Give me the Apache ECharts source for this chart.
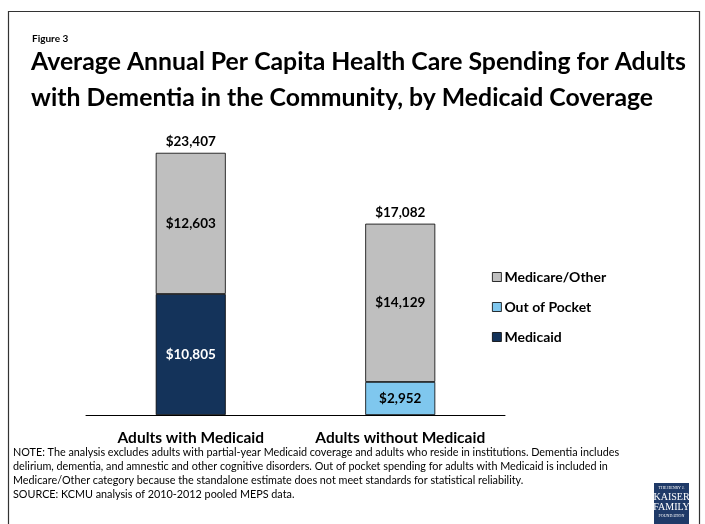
<!DOCTYPE html>
<html><head><meta charset="utf-8">
<script src="https://cdn.jsdelivr.net/npm/echarts@6/dist/echarts.min.js"></script>
<style>html,body{margin:0;padding:0;background:#fff}#c{width:705px;height:524px}</style>
</head><body><div id="c"></div>
<script>
const categories = ['Adults with Medicaid', 'Adults without Medicaid'];
const medicaid = [10805, null];
const outOfPocket = [null, 2952];
const medicareOther = [12603, 14129];
const totals = [23407, 17082];
const seriesNames = ['Medicaid', 'Out of Pocket', 'Medicare/Other'];
const legendOrder = ['Medicare/Other', 'Out of Pocket', 'Medicaid'];

const FONT = 'Lato';
const fmt = v => '$' + Number(v).toLocaleString('en-US');
const chart = echarts.init(document.getElementById('c'));
const labelStyle = (color) => ({show: true, position: 'inside', color: color, fontFamily: FONT, fontWeight: 'bold', fontSize: 13.5,
  formatter: p => p.value == null ? '' : fmt(p.value)});
const barBase = {type: 'bar', stack: 'total', barWidth: 70, itemStyle: {borderColor: '#000', borderWidth: 0.8}};
chart.setOption({
  animation: false,
  graphic: [
    {type: 'rect', shape: {x: 8.5, y: 11.5, width: 691, height: 530}, style: {fill: 'none', stroke: '#333', lineWidth: 1.2}},
    {type: 'text', left: 32, top: 34, style: {text: 'Figure 3', font: 'bold 10px Lato', fill: '#000'}},
    {type: 'text', left: 31, top: 44, style: {text: 'Average Annual Per Capita Health Care Spending for Adults\nwith Dementia in the Community, by Medicaid Coverage', font: 'bold 24.8px Lato', lineHeight: 36, fill: '#000'}},
    {type: 'text', left: 13, top: 446, style: {text: 'NOTE: The analysis excludes adults with partial-year Medicaid coverage and adults who reside in institutions. Dementia includes\ndelirium, dementia, and amnestic and other cognitive disorders. Out of pocket spending for adults with Medicaid is included in\nMedicare/Other category because the standalone estimate does not meet standards for statistical reliability.\nSOURCE: KCMU analysis of 2010-2012 pooled MEPS data.', font: '10.8px Lato', lineHeight: 14, fill: '#000'}},
    {type: 'rect', shape: {x: 654, y: 483, width: 35, height: 41}, style: {fill: '#1f3a68'}},
    {type: 'text', x: 671.5, y: 486, style: {text: 'THE HENRY J.', font: '4px serif', fill: '#fff', align: 'center'}},
    {type: 'text', x: 671.5, y: 492, style: {text: 'KAISER', font: '10px "Liberation Serif"', fill: '#fff', align: 'center'}},
    {type: 'text', x: 671.5, y: 502, style: {text: 'FAMILY', font: '10px "Liberation Serif"', fill: '#fff', align: 'center'}},
    {type: 'text', x: 671.5, y: 514, style: {text: 'FOUNDATION', font: '4px serif', fill: '#fff', align: 'center'}}
  ],
  legend: {
    data: legendOrder, orient: 'vertical', left: 487, top: 265, itemGap: 16,
    itemWidth: 9, itemHeight: 9, icon: 'rect', itemStyle: {borderColor: '#000', borderWidth: 0.8},
    textStyle: {fontFamily: FONT, fontWeight: 'bold', fontSize: 14, color: '#000', padding: [0, 0, 0, -2]}
  },
  grid: {left: 86, right: 200, top: 135, bottom: 109},
  xAxis: {type: 'category', data: categories,
    axisLine: {lineStyle: {color: '#000', width: 1}}, axisTick: {show: false},
    axisLabel: {interval: 0, fontFamily: FONT, fontWeight: 'bold', fontSize: 15.5, color: '#000', margin: 15}},
  yAxis: {type: 'value', min: 0, max: 25000, show: false, splitLine: {show: false}},
  series: [
    Object.assign({}, barBase, {name: seriesNames[0], data: medicaid, itemStyle: Object.assign({}, barBase.itemStyle, {color: '#14335a'}), label: labelStyle('#fff')}),
    Object.assign({}, barBase, {name: seriesNames[1], data: outOfPocket, itemStyle: Object.assign({}, barBase.itemStyle, {color: '#7fc7ee'}), label: labelStyle('#000')}),
    Object.assign({}, barBase, {name: seriesNames[2], data: medicareOther, itemStyle: Object.assign({}, barBase.itemStyle, {color: '#bfbfbf'}), label: labelStyle('#000')}),
    {type: 'scatter', name: 'Total', data: totals, symbolSize: 1, silent: true, itemStyle: {opacity: 0},
      label: {show: true, position: 'top', distance: 4, fontFamily: FONT, fontWeight: 'bold', fontSize: 13.5, color: '#000', opacity: 1, formatter: p => fmt(p.value)}}
  ]
});
</script></body></html>
